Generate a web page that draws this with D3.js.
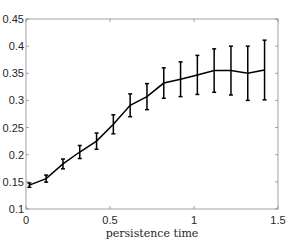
<!DOCTYPE html>
<html>
<head>
<meta charset="utf-8">
<script src="https://cdn.jsdelivr.net/npm/d3@7"></script>
<style>
  body { margin: 0; background: #fff; }
  svg { display: block; }
</style>
</head>
<body>
<div class="chart"></div>
<script>
var persistence = [0.02, 0.12, 0.22, 0.32, 0.42, 0.52, 0.62, 0.72, 0.82, 0.92, 1.02, 1.12, 1.22, 1.32, 1.42];
var meanValue = [0.144, 0.156, 0.183, 0.205, 0.225, 0.256, 0.291, 0.307, 0.332, 0.339, 0.347, 0.355, 0.355, 0.350, 0.356];
var errValue = [0.004, 0.0065, 0.009, 0.012, 0.015, 0.0175, 0.021, 0.024, 0.028, 0.032, 0.036, 0.040, 0.045, 0.050, 0.055];
var xTicks = [0, 0.5, 1, 1.5];
var yTicks = [0.1, 0.15, 0.2, 0.25, 0.3, 0.35, 0.4, 0.45];

var width = 292, height = 243;
var margin = {top: 19, right: 14, bottom: 34, left: 26};

var svg = d3.select('.chart').append('svg')
    .attr('width', width)
    .attr('height', height);

var x = d3.scaleLinear().domain([0, 1.5]).range([margin.left, width - margin.right]);
var y = d3.scaleLinear().domain([0.1, 0.45]).range([height - margin.bottom, margin.top]);

var axisColor = '#8c8c8c';
var textColor = '#262626';

// box + inner ticks (matlab style)
var g = svg.append('g');
g.append('rect')
  .attr('x', x(0)).attr('y', y(0.45))
  .attr('width', x(1.5) - x(0)).attr('height', y(0.1) - y(0.45))
  .attr('fill', 'none').attr('stroke', axisColor).attr('stroke-width', 0.8);

var tl = 3;
xTicks.forEach(function(t) {
  g.append('line').attr('x1', x(t)).attr('x2', x(t)).attr('y1', y(0.1)).attr('y2', y(0.1) - tl)
    .attr('stroke', axisColor).attr('stroke-width', 0.8);
  g.append('line').attr('x1', x(t)).attr('x2', x(t)).attr('y1', y(0.45)).attr('y2', y(0.45) + tl)
    .attr('stroke', axisColor).attr('stroke-width', 0.8);
  g.append('text').attr('x', x(t)).attr('y', y(0.1) + 15)
    .attr('text-anchor', 'middle')
    .attr('font-family', 'Liberation Sans, Arial, sans-serif').attr('font-size', 11)
    .attr('fill', textColor).text(d3.format('')(t));
});
yTicks.forEach(function(t) {
  g.append('line').attr('x1', x(0)).attr('x2', x(0) + tl).attr('y1', y(t)).attr('y2', y(t))
    .attr('stroke', axisColor).attr('stroke-width', 0.8);
  g.append('line').attr('x1', x(1.5)).attr('x2', x(1.5) - tl).attr('y1', y(t)).attr('y2', y(t))
    .attr('stroke', axisColor).attr('stroke-width', 0.8);
  g.append('text').attr('x', x(0) - 2).attr('y', y(t) + 4)
    .attr('text-anchor', 'end')
    .attr('font-family', 'Liberation Sans, Arial, sans-serif').attr('font-size', 11)
    .attr('fill', textColor).text(d3.format('')(t));
});

svg.append('text')
  .attr('x', x(0.75)).attr('y', height - 6)
  .attr('text-anchor', 'middle')
  .attr('font-family', 'DejaVu Serif, Liberation Serif, serif').attr('font-size', 11)
  .attr('fill', textColor)
  .text('persistence time');

var data = persistence.map(function(p, i) { return {x: p, y: meanValue[i], e: errValue[i]}; });

// error bars
var bars = svg.append('g').attr('stroke', '#000').attr('stroke-width', 1.5);
data.forEach(function(d) {
  bars.append('line').attr('x1', x(d.x)).attr('x2', x(d.x)).attr('y1', y(d.y - d.e)).attr('y2', y(d.y + d.e));
  bars.append('line').attr('x1', x(d.x) - 2).attr('x2', x(d.x) + 2).attr('y1', y(d.y - d.e)).attr('y2', y(d.y - d.e));
  bars.append('line').attr('x1', x(d.x) - 2).attr('x2', x(d.x) + 2).attr('y1', y(d.y + d.e)).attr('y2', y(d.y + d.e));
});

var line = d3.line().x(function(d) { return x(d.x); }).y(function(d) { return y(d.y); });
svg.append('path').datum(data)
  .attr('d', line)
  .attr('fill', 'none').attr('stroke', '#000').attr('stroke-width', 1.5);
</script>
</body>
</html>
